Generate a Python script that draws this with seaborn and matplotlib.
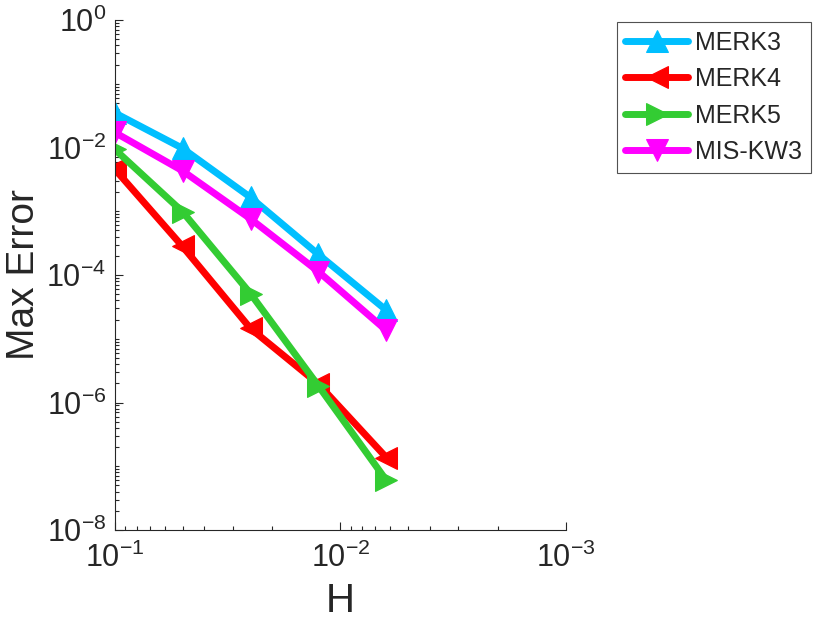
import numpy as np
import matplotlib
matplotlib.use("Agg")
import matplotlib.pyplot as plt
import seaborn as sns
from matplotlib.ticker import LogLocator, FixedLocator, FixedFormatter, NullFormatter

# ── DATA ───────────────────────────────────────────────────────
H        = [0.1, 0.05, 0.025, 0.0125, 0.00625]
MERK3    = [3.5e-2, 9.7e-3, 1.65e-3, 2.1e-4, 2.8e-5]
MERK4    = [4.6e-3, 2.8e-4, 1.45e-5, 1.95e-6, 1.37e-7]
MERK5    = [9.4e-3, 9.8e-4, 5.1e-5, 1.82e-6, 6.0e-8]
MISKW3   = [1.73e-2, 4.3e-3, 7.6e-4, 1.13e-4, 1.35e-5]

SERIES = [
    ("MERK3",   MERK3,  "^", "#00BFFF"),
    ("MERK4",   MERK4,  "<", "#FF0000"),
    ("MERK5",   MERK5,  ">", "#33CC33"),
    ("MIS-KW3", MISKW3, "v", "#FF00FF"),
]
XT_LABELS = [r"$10^{-1}$", r"$10^{-2}$", r"$10^{-3}$"]
YT_LABELS = [r"$10^{-8}$", r"$10^{-6}$", r"$10^{-4}$", r"$10^{-2}$", r"$10^{0}$"]

sns.set_style("ticks")
plt.rcParams["font.family"] = ["Liberation Sans", "DejaVu Sans"]
plt.rcParams["mathtext.fontset"] = "custom"
plt.rcParams["mathtext.rm"] = "Liberation Sans"
plt.rcParams["mathtext.it"] = "Liberation Sans"

INK = "#262626"

fig = plt.figure(figsize=(8.19, 6.25), dpi=100)
ax = fig.add_axes([0.140, 0.152, 0.551, 0.816])

for name, vals, mk, col in SERIES:
    sns.lineplot(x=H, y=vals, ax=ax, color=col, lw=5, marker=mk,
                 markersize=16, markeredgecolor=col, label=name)

ax.set_xscale("log"); ax.set_yscale("log")
ax.set_xlim(0.1, 0.001)
ax.set_ylim(1e-8, 1)

ax.xaxis.set_major_locator(FixedLocator([1e-1, 1e-2, 1e-3]))
ax.xaxis.set_major_formatter(FixedFormatter(XT_LABELS))
ax.xaxis.set_minor_locator(LogLocator(base=10, subs=np.arange(2, 10)))
ax.xaxis.set_minor_formatter(NullFormatter())

ax.yaxis.set_major_locator(FixedLocator([1e-8, 1e-6, 1e-4, 1e-2, 1]))
ax.yaxis.set_major_formatter(FixedFormatter(YT_LABELS))
ax.yaxis.set_minor_locator(LogLocator(base=10, subs=np.arange(1, 10), numticks=20))
ax.yaxis.set_minor_formatter(NullFormatter())

ax.tick_params(which="both", direction="in", labelsize=22, colors=INK, width=0.8)
ax.tick_params(which="major", length=6, pad=6)
ax.tick_params(axis="x", which="major", pad=9)
ax.tick_params(which="minor", length=3)
sns.despine(ax=ax)
for s in ["left", "bottom"]:
    ax.spines[s].set_color(INK); ax.spines[s].set_linewidth(0.8)

ax.set_xlabel("H", fontsize=29, color=INK, labelpad=6)
ax.set_ylabel("Max Error", fontsize=28, color=INK)
ax.yaxis.set_label_coords(-0.16, 0.5)

leg = ax.legend(loc="upper left", bbox_to_anchor=(0.753, 0.965),
                bbox_transform=fig.transFigure, fontsize=18, frameon=True,
                fancybox=False, edgecolor=INK, handlelength=2.5,
                borderaxespad=0, labelspacing=0.5, handletextpad=0.3,
                borderpad=0.35)
leg.get_frame().set_linewidth(0.8)

fig.savefig("out.png", dpi=100, facecolor="white")
